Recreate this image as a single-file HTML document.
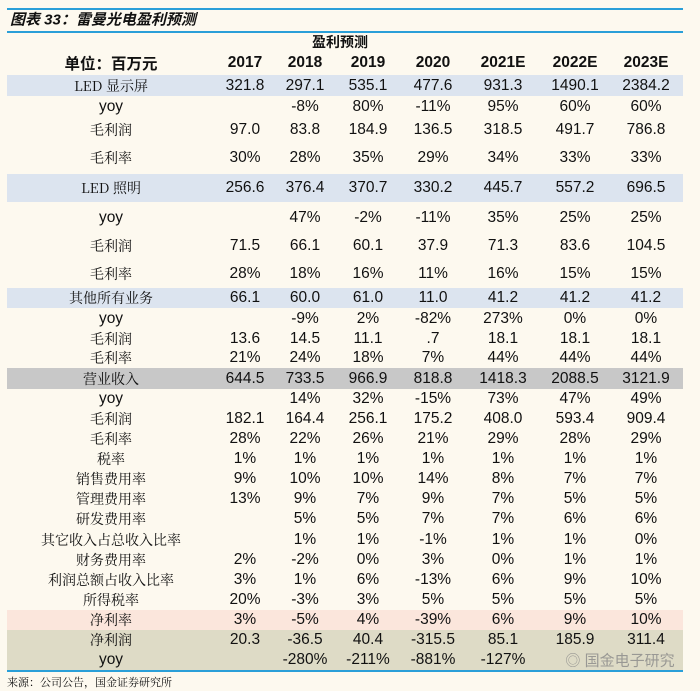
<!DOCTYPE html>
<html><head><meta charset="utf-8"><style>
body{margin:0;background:#fdf9ef;}
#w{position:relative;width:700px;height:691px;background:#fdf9ef;font-family:"Liberation Sans","Noto Sans CJK SC",sans-serif;color:#111;overflow:hidden}
.ln{position:absolute;left:7px;width:676px;height:1.5px;background:#2a9fd8}
.band{position:absolute;left:7px;width:676px}
.c{position:absolute;transform:translate(-50%,-50%);white-space:nowrap;font-size:15.5px}
.lb{font-family:"Noto Serif CJK SC","Liberation Serif",serif;font-size:14px}
.b{font-weight:bold}
</style></head><body>
<div id="w">
<div class="ln" style="top:8px"></div>
<div class="c b" style="left:10px;top:19px;transform:translateY(-50%);font-style:italic;font-size:15px;font-family:'Liberation Sans','Noto Sans CJK SC',sans-serif">图表 33：雷曼光电盈利预测</div>
<div class="ln" style="top:31px"></div>
<div class="band" style="top:75px;height:21px;background:#dce4ef"></div>
<div class="band" style="top:174px;height:28px;background:#dce4ef"></div>
<div class="band" style="top:288px;height:20px;background:#dce4ef"></div>
<div class="band" style="top:368px;height:21px;background:#c8c8c8"></div>
<div class="band" style="top:610px;height:20px;background:#fbe6dc"></div>
<div class="band" style="top:630px;height:40px;background:#dedbc6"></div>
<div class="ln" style="top:670px"></div>
<div class="c b" style="left:340px;top:42px;font-size:14px">盈利预测</div>
<div class="c lb" style="left:7px;top:682px;transform:translateY(-50%);font-size:11px">来源：公司公告，国金证券研究所</div>
<div class="c" style="left:620px;top:660px;color:#888;font-size:15px;opacity:.8">◎ 国金电子研究</div>
<div id="rows"></div>
</div>
<script>
const cols=[245,305,368,433,503,575,646];
const years=["2017","2018","2019","2020","2021E","2022E","2023E"];
const rowY=[86,107,130,158,188,218,246,274,298,319,339,358,379,399,419,439,459,479,499,519,540,560,580,600,620,640,660];
const labels=["LED 显示屏","yoy","毛利润","毛利率","LED 照明","yoy","毛利润","毛利率","其他所有业务","yoy","毛利润","毛利率","营业收入","yoy","毛利润","毛利率","税率","销售费用率","管理费用率","研发费用率","其它收入占总收入比率","财务费用率","利润总额占收入比率","所得税率","净利率","净利润","yoy"];
const values=[
["321.8","297.1","535.1","477.6","931.3","1490.1","2384.2"],
["","-8%","80%","-11%","95%","60%","60%"],
["97.0","83.8","184.9","136.5","318.5","491.7","786.8"],
["30%","28%","35%","29%","34%","33%","33%"],
["256.6","376.4","370.7","330.2","445.7","557.2","696.5"],
["","47%","-2%","-11%","35%","25%","25%"],
["71.5","66.1","60.1","37.9","71.3","83.6","104.5"],
["28%","18%","16%","11%","16%","15%","15%"],
["66.1","60.0","61.0","11.0","41.2","41.2","41.2"],
["","-9%","2%","-82%","273%","0%","0%"],
["13.6","14.5","11.1",".7","18.1","18.1","18.1"],
["21%","24%","18%","7%","44%","44%","44%"],
["644.5","733.5","966.9","818.8","1418.3","2088.5","3121.9"],
["","14%","32%","-15%","73%","47%","49%"],
["182.1","164.4","256.1","175.2","408.0","593.4","909.4"],
["28%","22%","26%","21%","29%","28%","29%"],
["1%","1%","1%","1%","1%","1%","1%"],
["9%","10%","10%","14%","8%","7%","7%"],
["13%","9%","7%","9%","7%","5%","5%"],
["","5%","5%","7%","7%","6%","6%"],
["","1%","1%","-1%","1%","1%","0%"],
["2%","-2%","0%","3%","0%","1%","1%"],
["3%","1%","6%","-13%","6%","9%","10%"],
["20%","-3%","3%","5%","5%","5%","5%"],
["3%","-5%","4%","-39%","6%","9%","10%"],
["20.3","-36.5","40.4","-315.5","85.1","185.9","311.4"],
["","-280%","-211%","-881%","-127%","",""]];
const R=document.getElementById('rows');
function add(txt,x,y,cls,name){const d=document.createElement('div');d.className='c '+cls;d.style.left=x+'px';d.style.top=y+'px';d.textContent=txt;


R.appendChild(d);}
add("单位：百万元",111,63,"b","unit-header");
years.forEach((y,i)=>add(y,cols[i],63,"b","year-"+y));
labels.forEach((l,r)=>{add(l,111,rowY[r],l==="yoy"?"":"lb","row-label");
values[r].forEach((v,i)=>{if(v)add(v,cols[i],rowY[r],"","cell-value");});});
</script>
</body></html>
